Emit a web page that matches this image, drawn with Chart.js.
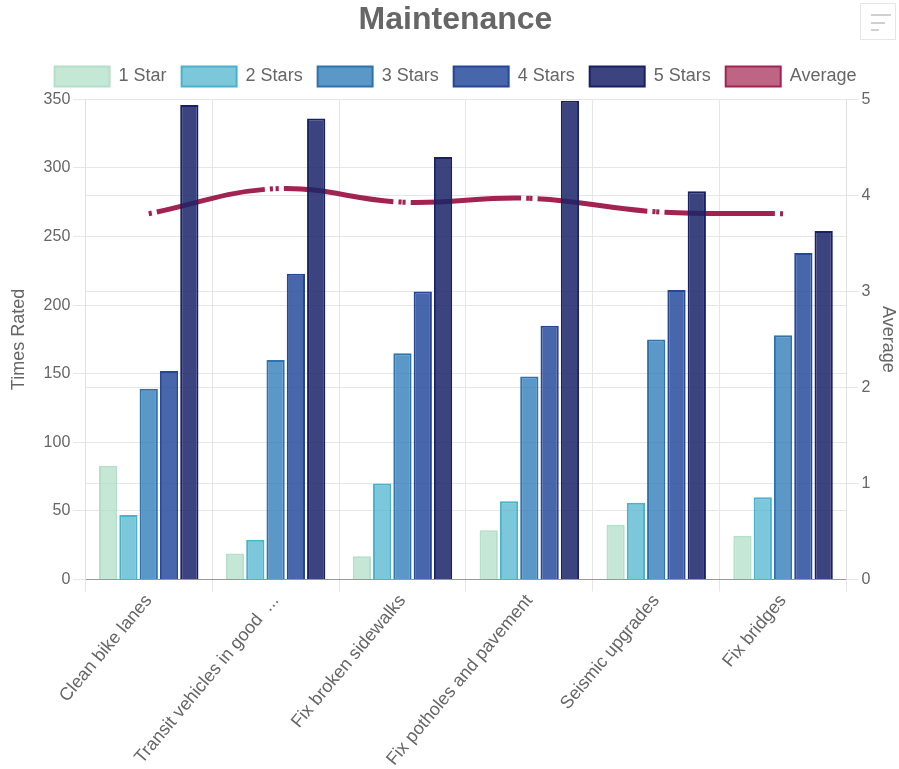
<!DOCTYPE html>
<html>
<head>
<meta charset="utf-8">
<script src="https://cdn.jsdelivr.net/npm/chart.js@4.4.1/dist/chart.umd.min.js"></script>
<style>
  html, body { margin: 0; padding: 0; background: #fff; }
  #wrap { position: relative; width: 899px; height: 769px; }
  #menu { position: absolute; left: 860px; top: 3px; width: 36px; height: 37px; border: 1px solid #e6e6e6; box-sizing: border-box; background:#fff; }
  #menu span { position: absolute; left: 10px; height: 2px; background: #d0d0d0; }
</style>
</head>
<body>
<div id="wrap">
  <canvas id="c" width="899" height="769"></canvas>
  <div id="menu"><span style="top:10px;width:20px"></span><span style="top:18px;width:14px"></span><span style="top:25px;width:8px"></span></div>
</div>
<script>
const categories = ["Clean bike lanes", "Transit vehicles in good  ...", "Fix broken sidewalks", "Fix potholes and pavement", "Seismic upgrades", "Fix bridges"];
const star1 = [83, 19, 17, 36, 40, 32];
const star2 = [47, 29, 70, 57, 56, 60];
const star3 = [139, 160, 165, 148, 175, 178];
const star4 = [152, 223, 210, 185, 211, 238];
const star5 = [346, 336, 308, 349, 283, 254];
const average = [3.81, 4.07, 3.93, 3.97, 3.83, 3.81];
const leftTicks = [0, 50, 100, 150, 200, 250, 300, 350];
const rightTicks = [0, 1, 2, 3, 4, 5];

const FONT = "'Liberation Sans', Arial, sans-serif";
Chart.defaults.font.family = FONT;
Chart.defaults.color = '#666';

function bar(label, data, bg, border) {
  return { type: 'bar', label, data, backgroundColor: bg, borderColor: border, borderWidth: 2, yAxisID: 'y', order: 1 };
}

// adds a little space below the legend
const legendGap = {
  id: 'legendGap',
  beforeLayout(chart) {
    const lg = chart.legend;
    if (lg && !lg._gapWrapped) {
      const orig = lg.fit;
      lg.fit = function () { orig.call(this); this.height += 3; };
      lg._gapWrapped = true;
    }
  }
};

new Chart(document.getElementById('c'), {
  data: {
    labels: categories,
    datasets: [
      bar('1 Star', star1, 'rgba(175,222,198,0.72)', 'rgba(180,223,202,1)'),
      bar('2 Stars', star2, 'rgba(80,180,205,0.75)', 'rgba(75,178,205,1)'),
      bar('3 Stars', star3, 'rgba(50,125,185,0.8)', 'rgba(45,115,175,1)'),
      bar('4 Stars', star4, 'rgba(40,75,155,0.85)', 'rgba(38,70,152,1)'),
      bar('5 Stars', star5, 'rgba(25,35,105,0.85)', 'rgba(25,32,100,1)'),
      {
        type: 'line', label: 'Average', data: average, yAxisID: 'y1', order: 10,
        borderColor: 'rgba(163,35,80,1)', backgroundColor: 'rgba(163,35,80,0.7)',
        borderWidth: 5, tension: 0.4, pointRadius: 0, pointHoverRadius: 0, fill: false,
        borderDash: [3, 5, 111, 5],
        segment: { borderDashOffset: c => (c.p0DataIndex % 2 ? 0.001 : 0) }
      }
    ]
  },
  options: {
    responsive: false,
    animation: false,
    layout: { padding: { left: 12, right: 0, top: 0, bottom: 0 } },
    plugins: {
      title: { display: true, text: 'Maintenance', color: '#666', font: { size: 32, weight: 'bold' }, padding: { top: 1, bottom: 12 } },
      legend: {
        labels: { boxWidth: 55, boxHeight: 20, font: { size: 18 }, color: '#666', padding: 15,
          generateLabels(chart) {
            const items = Chart.defaults.plugins.legend.labels.generateLabels(chart);
            items.forEach(it => { it.lineWidth = 2; it.lineDash = []; });
            return items;
          }
        }
      },
      tooltip: { enabled: false }
    },
    scales: {
      x: {
        grid: { color: '#e6e6e6', offset: true, tickLength: 12 },
        border: { color: '#999' },
        ticks: { font: { size: 18 }, color: '#666', minRotation: 50, maxRotation: 50, autoSkip: false, padding: -1 }
      },
      y: {
        position: 'left', min: 0, max: 350,
        afterBuildTicks(s) { s.ticks = leftTicks.map(v => ({ value: v })); },
        grid: { color: '#e6e6e6', tickLength: 12 },
        border: { color: '#e0e0e0' },
        ticks: { font: { size: 16 }, color: '#666' },
        title: { display: true, text: 'Times Rated', font: { size: 18 }, color: '#666', padding: { top: -4, bottom: 11 } }
      },
      y1: {
        position: 'right', min: 0, max: 5,
        afterBuildTicks(s) { s.ticks = rightTicks.map(v => ({ value: v })); },
        grid: { color: '#e6e6e6', tickLength: 12 },
        border: { color: '#e0e0e0' },
        ticks: { font: { size: 16 }, color: '#666' },
        title: { display: true, text: 'Average', font: { size: 18 }, color: '#666', padding: { top: 0, bottom: 4 } }
      }
    }
  },
  plugins: [legendGap]
});
</script>
</body>
</html>
